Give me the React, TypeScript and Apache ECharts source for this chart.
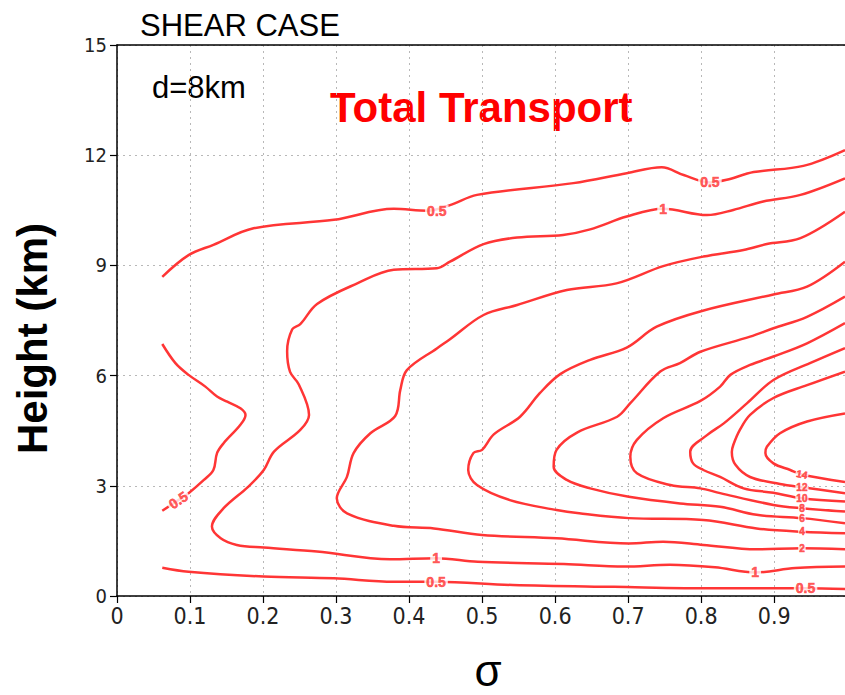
import React, { useEffect, useRef } from "react";
import * as echarts from "echarts";

// ---- axes ----
const SIGMA_MIN = 0;
const SIGMA_MAX = 0.997;
const HEIGHT_MIN = 0;
const HEIGHT_MAX = 15;

// ---- contour lines [sigma, height km] ----
const c05Upper = [[0.062,8.69],[0.098,9.28],[0.132,9.56],[0.187,10.01],[0.297,10.24],[0.379,10.54],[0.425,10.49],[0.456,10.64],[0.493,10.92],[0.625,11.24],[0.698,11.51],[0.746,11.67],[0.776,11.46],[0.812,11.26],[0.835,11.33],[0.872,11.54],[0.940,11.71],[0.997,12.14]];
const c05Left = [[0.062,6.86],[0.080,6.34],[0.098,6.02],[0.121,5.70],[0.137,5.43],[0.151,5.29],[0.169,5.11],[0.176,4.93],[0.169,4.66],[0.146,4.16],[0.137,3.89],[0.132,3.43],[0.119,3.16],[0.098,2.80],[0.084,2.61],[0.062,2.32]];
const c05Lower = [[0.062,0.77],[0.098,0.66],[0.201,0.53],[0.297,0.48],[0.379,0.39],[0.437,0.39],[0.542,0.30],[0.681,0.25],[0.819,0.21],[0.943,0.21],[0.997,0.19]];
const c1 = [[0.997,11.37],[0.936,10.92],[0.885,10.74],[0.844,10.51],[0.808,10.37],[0.748,10.54],[0.698,10.33],[0.648,9.98],[0.611,9.83],[0.548,9.76],[0.502,9.58],[0.456,9.10],[0.438,8.92],[0.379,8.88],[0.329,8.51],[0.274,7.95],[0.251,7.40],[0.240,7.26],[0.233,6.66],[0.237,6.10],[0.249,5.76],[0.263,4.93],[0.251,4.52],[0.215,3.93],[0.201,3.43],[0.180,2.98],[0.146,2.39],[0.130,1.89],[0.142,1.57],[0.164,1.39],[0.201,1.32],[0.274,1.21],[0.374,1.00],[0.437,1.03],[0.494,0.93],[0.612,0.87],[0.695,0.80],[0.757,0.85],[0.819,0.78],[0.874,0.64],[0.929,0.76],[0.997,0.80]];
const c2 = [[0.997,10.46],[0.936,9.74],[0.890,9.58],[0.858,9.42],[0.803,9.24],[0.748,8.98],[0.684,8.51],[0.616,8.33],[0.548,7.92],[0.502,7.65],[0.456,6.99],[0.438,6.74],[0.397,6.15],[0.388,5.61],[0.381,4.90],[0.347,4.43],[0.324,3.89],[0.315,3.25],[0.301,2.66],[0.315,2.25],[0.379,1.91],[0.434,1.84],[0.500,1.66],[0.602,1.57],[0.701,1.43],[0.748,1.48],[0.803,1.39],[0.876,1.27],[0.938,1.30],[0.997,1.27]];
const c4 = [[0.997,9.10],[0.945,8.42],[0.899,8.21],[0.801,7.76],[0.739,7.33],[0.698,6.76],[0.648,6.43],[0.607,6.04],[0.579,5.52],[0.552,4.88],[0.516,4.40],[0.500,3.98],[0.488,3.89],[0.481,3.43],[0.493,3.02],[0.538,2.61],[0.602,2.34],[0.633,2.25],[0.701,2.12],[0.803,2.07],[0.876,1.84],[0.938,1.75],[0.997,1.71]];
const c6 = [[0.997,8.15],[0.945,7.60],[0.899,7.29],[0.867,7.06],[0.799,6.65],[0.771,6.34],[0.744,6.11],[0.703,5.25],[0.685,4.88],[0.630,4.45],[0.602,3.98],[0.598,3.52],[0.616,3.16],[0.648,2.93],[0.701,2.70],[0.771,2.52],[0.826,2.43],[0.876,2.21],[0.938,2.12],[0.997,1.98]];
const c8 = [[0.997,7.43],[0.945,6.88],[0.899,6.52],[0.867,6.29],[0.840,6.02],[0.826,5.70],[0.799,5.31],[0.748,4.84],[0.712,4.25],[0.703,3.79],[0.712,3.34],[0.758,3.02],[0.799,2.93],[0.826,2.80],[0.899,2.48],[0.938,2.39],[0.997,2.30]];
const c10 = [[0.997,6.75],[0.949,6.34],[0.899,5.88],[0.863,5.25],[0.831,4.70],[0.808,4.38],[0.785,3.93],[0.789,3.61],[0.803,3.43],[0.826,3.24],[0.858,2.93],[0.899,2.81],[0.938,2.66],[0.997,2.57]];
const c12 = [[0.997,6.11],[0.945,5.74],[0.899,5.39],[0.867,4.93],[0.853,4.52],[0.844,4.11],[0.842,3.92],[0.847,3.57],[0.867,3.24],[0.908,3.05],[0.938,2.96],[0.997,2.80]];
const c14 = [[0.997,4.97],[0.945,4.75],[0.908,4.43],[0.890,4.06],[0.888,3.89],[0.899,3.61],[0.922,3.43],[0.938,3.31],[0.997,3.10]];

const contours = [c05Upper, c05Left, c05Lower, c1, c2, c4, c6, c8, c10, c12, c14];
const contourNames = ["0.5 (upper)", "0.5 (left)", "0.5 (lower)", "1", "2", "4", "6", "8", "10", "12", "14"];

// ---- contour labels ----
const labelTexts = ["0.5", "0.5", "1", "0.5", "1", "0.5", "1", "0.5", "2", "4", "6", "8", "10", "12", "14"];
const labelSigma = [0.438, 0.812, 0.748, 0.084, 0.437, 0.437, 0.874, 0.943, 0.938, 0.938, 0.938, 0.938, 0.938, 0.938, 0.938];
const labelHeight = [10.49, 11.26, 10.54, 2.61, 1.03, 0.39, 0.64, 0.21, 1.30, 1.75, 2.12, 2.39, 2.66, 2.96, 3.31];
const labelAngle = [0, 0, 0, 34, 0, 0, 0, 0, 0, 0, 0, 0, 0, 0, -12];
const labelStacked = [false, false, false, false, false, false, false, false, true, true, true, true, true, true, true];

const RED = "#ff3535";
const NARROW = "'Liberation Sans Narrow', 'DejaVu Sans Condensed', 'Liberation Sans', Arial, sans-serif";
const SANS = "'Liberation Sans', Arial, Helvetica, sans-serif";

export default function App() {
  const ref = useRef<HTMLDivElement>(null);

  useEffect(() => {
    if (!ref.current) return;
    const chart = echarts.init(ref.current, undefined, { renderer: "svg" });

    const lineSeries = contours.map((c, i) => ({
      type: "line",
      name: contourNames[i],
      data: c,
      smooth: 0.35,
      showSymbol: false,
      symbol: "none",
      lineStyle: { color: RED, width: 2.5 },
      z: 2,
      silent: true,
    }));

    const labelData = labelTexts.map((t, i) => ({
      value: [labelSigma[i], labelHeight[i], t],
      label: labelStacked[i]
        ? { rotate: labelAngle[i], fontSize: 10, lineHeight: 8, padding: [0, 1] }
        : { rotate: labelAngle[i], fontSize: 14, lineHeight: 11, padding: [0, 2] },
    }));

    const splitDotted = { show: true, lineStyle: { color: "#b8b8b8", type: [2, 4], width: 1 } };

    chart.setOption({
      animation: false,
      backgroundColor: "#ffffff",
      title: {
        text: "SHEAR CASE",
        left: 135,
        top: 5,
        textStyle: { fontSize: 31, fontWeight: "normal", color: "#000", fontFamily: SANS },
      },
      graphic: [
        {
          type: "text",
          left: 152,
          top: 72,
          style: { text: "d=8km", fontSize: 31, fill: "#000", fontFamily: SANS },
        },
        {
          type: "text",
          left: 330,
          top: 86,
          style: { text: "Total Transport", fontSize: 42, fontWeight: "bold", fill: "#ff0000", fontFamily: SANS },
        },
      ],
      grid: { left: 117, right: 0, top: 45, bottom: 99, containLabel: false, outerBoundsMode: "none" },
      xAxis: [
        {
          type: "value",
          position: "bottom",
          min: SIGMA_MIN,
          max: SIGMA_MAX,
          interval: 0.1,
          name: "σ",
          nameLocation: "middle",
          nameGap: 58,
          nameTextStyle: { fontSize: 44, lineHeight: 32, color: "#000", fontFamily: SANS, padding: [0, 0, 0, 14] },
          axisLine: { show: true, lineStyle: { color: "#000", width: 1.5 } },
          axisTick: { show: true, inside: false, length: 7, lineStyle: { color: "#000", width: 1.2 } },
          axisLabel: {
            fontSize: 23,
            color: "#222",
            fontFamily: NARROW,
            margin: 8,
            showMaxLabel: false,
            formatter: (v: number) => (v === 0 ? "0" : v.toFixed(1)),
          },
          splitLine: splitDotted,
        },
        {
          type: "value",
          position: "top",
          min: SIGMA_MIN,
          max: SIGMA_MAX,
          axisLine: { show: true, lineStyle: { color: "#000", width: 1.5 } },
          axisTick: { show: false },
          axisLabel: { show: false },
          splitLine: { show: false },
        },
      ],
      yAxis: {
        type: "value",
        min: HEIGHT_MIN,
        max: HEIGHT_MAX,
        interval: 3,
        name: "Height (km)",
        nameLocation: "middle",
        nameGap: 64,
        nameTextStyle: { fontSize: 42, fontWeight: "bold", color: "#000", fontFamily: SANS, padding: [0, 36, 0, 0] },
        axisLine: { show: true, lineStyle: { color: "#000", width: 1.5 } },
        axisTick: { show: true, inside: false, length: 7, lineStyle: { color: "#000", width: 1.2 } },
        axisLabel: { fontSize: 20, color: "#222", fontFamily: NARROW, margin: 10 },
        splitLine: splitDotted,
      },
      series: [
        ...lineSeries,
        {
          type: "scatter",
          name: "labels",
          data: labelData,
          symbolSize: 0,
          z: 5,
          silent: true,
          label: {
            show: true,
            position: "inside",
            formatter: (p: any) => p.value[2],
            fontWeight: "bold",
            color: RED,
            textBorderColor: RED,
            textBorderWidth: 0.6,
            fontFamily: SANS,
            backgroundColor: "#ffffff",
          },
        },
      ],
    });

    return () => chart.dispose();
  }, []);

  return (
    <div
      ref={ref}
      style={{ position: "fixed", left: 0, top: 0, width: 845, height: 695, background: "#fff" }}
    />
  );
}
